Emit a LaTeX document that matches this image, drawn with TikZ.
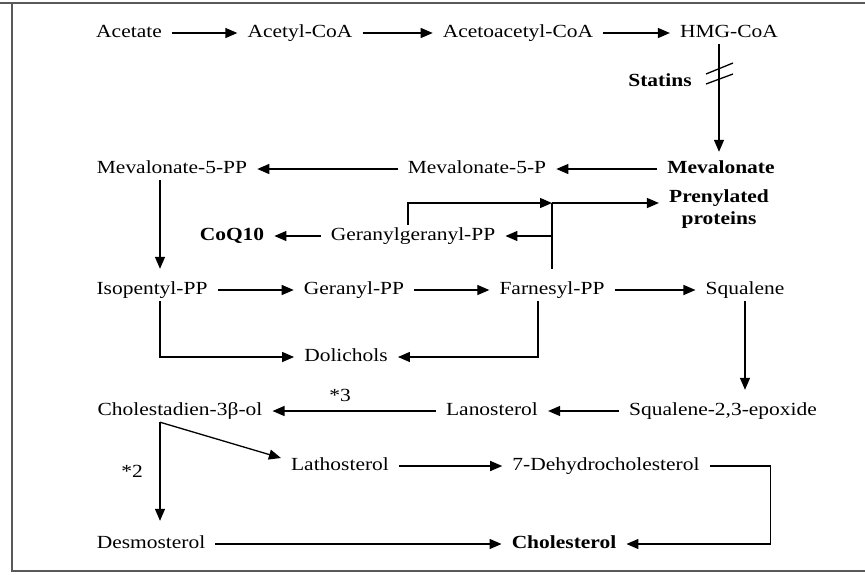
\documentclass[tikz,border=0pt]{standalone}
\usepackage{fontspec}
\setmainfont{Liberation Serif}[FakeStretch=1.16]
\usetikzlibrary{arrows.meta}

\begin{document}
\begin{tikzpicture}[
  x=1pt, y=-1pt,
  font=\fontsize{18.5}{22}\selectfont,
  every node/.style={inner xsep=10pt, inner ysep=3pt, text height=12pt, text depth=4pt},
  arr/.style={line width=1.3pt, -{Triangle[length=12pt,width=10pt]}},
  down/.style={arr, shorten >=10pt},
  bold/.style={font=\fontsize{18.5}{22}\selectfont\bfseries}
]
\useasboundingbox (0,0) rectangle (865,574);

% frame
\draw[gray!70!black, line width=2pt] (0,3) -- (865,3);
\draw[gray!70!black, line width=2pt] (12,3) -- (12,571) -- (865,571);

% metabolites
\node (acetate)     at (129,33)  {Acetate};
\node (acetyl)      at (300,33)  {Acetyl-CoA};
\node (acetoacetyl) at (518,33)  {Acetoacetyl-CoA};
\node (hmg)         at (729,33)  {HMG-CoA};
\node[bold] (statins) at (660,82) {Statins};
\node[bold] (mevalonate) at (721,169) {Mevalonate};
\node (mev5p)       at (477,169) {Mevalonate-5-P};
\node (mev5pp)      at (172,169) {Mevalonate-5-PP};
\node[bold, align=center, text height=, text depth=] (prenyl) at (719,209) {Prenylated\\proteins};
\node (ggpp)        at (413,236) {Geranylgeranyl-PP};
\node[bold] (coq10) at (232,236) {CoQ10};
\node (iso)         at (152,290) {Isopentyl-PP};
\node (geranyl)     at (354,290) {Geranyl-PP};
\node (farnesyl)    at (552,290) {Farnesyl-PP};
\node (squalene)    at (745,290) {Squalene};
\node (dolichols)   at (346,357) {Dolichols};
\node (chol3b)      at (180,411) {Cholestadien-3β-ol};
\node (lanosterol)  at (492,411) {Lanosterol};
\node (epoxide)     at (723,411) {Squalene-2,3-epoxide};
\node (lathosterol) at (340,466) {Lathosterol};
\node (dehydro)     at (606,466) {7-Dehydrocholesterol};
\node (desmosterol) at (151,544) {Desmosterol};
\node[bold] (cholesterol) at (564,544) {Cholesterol};

% enzyme marks
\node (star3) at (340,397) {*3};
\node (star2) at (132,473) {*2};

% top row
\draw[arr] (acetate) -- (acetyl);
\draw[arr] (acetyl) -- (acetoacetyl);
\draw[arr] (acetoacetyl) -- (hmg);

% HMG-CoA reductase, blocked by statins
\draw[down, shorten >=6pt] ([xshift=-10pt]hmg.south) -- ([xshift=-2pt]mevalonate.north);
\coordinate (cut) at (719,74);
\draw[line width=1.3pt] ([shift={(-13,0)}]cut) -- ++(27,-11);
\draw[line width=1.3pt] ([shift={(-13,10)}]cut) -- ++(27,-10);

\draw[arr] (mevalonate) -- (mev5p);
\draw[arr] (mev5p) -- (mev5pp);
\draw[down] ([xshift=-12pt]mev5pp.south) -- ([xshift=8pt]iso.north);

% prenylation branch
\coordinate (branch) at (552,203);
\draw[arr] ([xshift=-5pt]ggpp.north) |- (branch);
\draw[arr] (branch) -- (branch -| prenyl.west);
\draw[line width=1.3pt, shorten <=10pt] (farnesyl.north) -- (branch);
\draw[arr] (branch |- ggpp) -- (ggpp);
\draw[arr] (ggpp) -- (coq10);

% isoprenoid row
\draw[arr] (iso) -- (geranyl);
\draw[arr] (geranyl) -- (farnesyl);
\draw[arr] (farnesyl) -- (squalene);
\draw[arr] ([xshift=8pt]iso.south) |- (dolichols);
\draw[arr] ([xshift=-14pt]farnesyl.south) |- (dolichols);

% sterol part
\draw[down] (squalene.south) -- (squalene.south |- epoxide.north);
\draw[arr] (epoxide) -- (lanosterol);
\draw[arr] (lanosterol) -- (chol3b);
\draw[down, shorten >=12pt] ([xshift=-20pt]chol3b.south) -- ([xshift=9pt]desmosterol.north);
\draw[arr] ([xshift=-20pt]chol3b.south) -- ([yshift=8pt]lathosterol.west);
\draw[arr] (lathosterol) -- (dehydro);
\draw[arr] (dehydro.east) -- ++(61,0) |- (cholesterol.east);
\draw[arr] (desmosterol) -- (cholesterol);

\end{tikzpicture}
\end{document}
